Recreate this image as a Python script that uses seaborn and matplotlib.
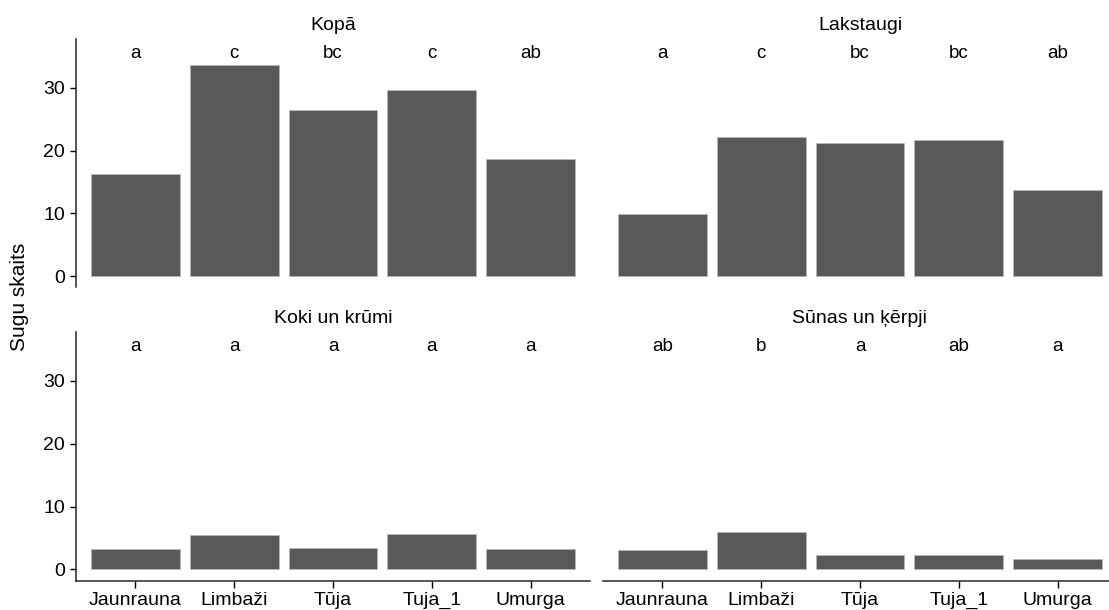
import matplotlib
matplotlib.use("Agg")
import matplotlib.pyplot as plt
import seaborn as sns
import pandas as pd

sites = ["Jaunrauna", "Limbaži", "Tūja", "Tuja_1", "Umurga"]
groups = ["Kopā", "Lakstaugi", "Koki un krūmi", "Sūnas un ķērpji"]

kopa = [16.2, 33.7, 26.5, 29.7, 18.6]
lakstaugi = [9.9, 22.2, 21.2, 21.7, 13.7]
koki = [3.2, 5.5, 3.4, 5.7, 3.2]
sunas = [3.0, 6.0, 2.3, 2.3, 1.7]

letters_kopa = ["a", "c", "bc", "c", "ab"]
letters_lakstaugi = ["a", "c", "bc", "bc", "ab"]
letters_koki = ["a", "a", "a", "a", "a"]
letters_sunas = ["ab", "b", "a", "ab", "a"]

values = [kopa, lakstaugi, koki, sunas]
letters = [letters_kopa, letters_lakstaugi, letters_koki, letters_sunas]

rows = []
for g, vals, lets in zip(groups, values, letters):
    for s, v, l in zip(sites, vals, lets):
        rows.append({"grupa": g, "vieta": s, "sugas": v, "burts": l})
df = pd.DataFrame(rows)

sns.set_theme(style="ticks")
plt.rcParams["font.family"] = ["Liberation Sans", "DejaVu Sans"]

W, H = 1109, 610
fig = plt.figure(figsize=(W / 100, H / 100), dpi=100)

# panel rectangles in pixels: left, right, top, bottom
col_x = [(76, 590), (603, 1117)]
row_y = [(39.1, 287.3), (332.0, 580.6)]

ymin, ymax = -1.8, 37.8
bar_color = "#595959"

for idx, g in enumerate(groups):
    r, c = divmod(idx, 2)
    x0, x1 = col_x[c]
    yt, yb = row_y[r]
    ax = fig.add_axes([x0 / W, 1 - yb / H, (x1 - x0) / W, (yb - yt) / H])
    sub = df[df["grupa"] == g]
    sns.barplot(data=sub, x="vieta", y="sugas", order=sites, color=bar_color,
                width=0.9, saturation=1, edgecolor="#b8b8b8", linewidth=0.6,
                errorbar=None, ax=ax)
    ax.set_xlim(-0.6, len(sites) - 0.4)
    ax.set_ylim(ymin, ymax)
    ax.set_xlabel("")
    ax.set_ylabel("")
    ax.set_facecolor("none")

    for i, lab in enumerate(sub["burts"]):
        ax.text(i, 34.8, lab, ha="center", va="baseline", fontsize=13.5,
                color="black")

    ax.annotate(g, xy=(0.5, 1.0), xycoords="axes fraction",
                xytext=(0, 6.5), textcoords="offset points",
                ha="center", va="baseline", fontsize=14, color="black")

    for side in ["top", "right"]:
        ax.spines[side].set_visible(False)
    ax.spines["left"].set_linewidth(1.1)
    ax.spines["bottom"].set_linewidth(1.1)

    if c == 0:
        ax.set_yticks([0, 10, 20, 30])
        ax.tick_params(axis="y", length=4, width=1.0, labelsize=14,
                       colors="black", pad=4)
    else:
        ax.spines["left"].set_visible(False)
        ax.set_yticks([])

    if r == 1:
        ax.tick_params(axis="x", length=5, width=1.0, labelsize=14,
                       colors="black", pad=3)
    else:
        ax.spines["bottom"].set_visible(False)
        ax.set_xticks([])

fig.text(20 / W, 1 - 297 / H, "Sugu skaits", rotation=90, ha="center",
         va="center", fontsize=15, color="black")

fig.savefig("out.png", dpi=100, facecolor="white")
